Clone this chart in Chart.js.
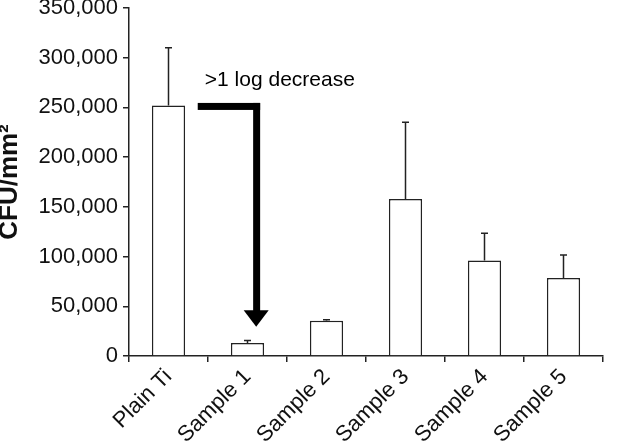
<!DOCTYPE html>
<html>
<head>
<meta charset="utf-8">
<script src="https://cdn.jsdelivr.net/npm/chart.js@4"></script>
<style>
  html, body { margin: 0; padding: 0; background: #fff; }
  #wrap { width: 637px; height: 444px; }
</style>
</head>
<body>
<div id="wrap"><canvas id="myChart"></canvas></div>
<script>
const categories = ['Plain Ti', 'Sample 1', 'Sample 2', 'Sample 3', 'Sample 4', 'Sample 5'];
const cfuValues = [252000, 13000, 35500, 158000, 96000, 78500];
const cfuErrors = [58000, 2500, 1000, 77000, 27500, 23000];
const yTicks = [0, 50000, 100000, 150000, 200000, 250000, 300000, 350000];

// annotation: ">1 log decrease" arrow, in axis units
const arrowX = [0.37, 1.16, 1.11];   // start, corner, head centre (category units)
const arrowY = [251000, 46000, 29500]; // shaft level, head base, tip
const noteText = '>1 log decrease';
const noteAt = [0.46, 277500];

const ink = '#222';
const font = 'Liberation Sans, Arial, sans-serif';

const errorBars = {
  id: 'errorBars',
  afterDatasetsDraw(chart) {
    const ctx = chart.ctx;
    const y = chart.scales.y;
    const meta = chart.getDatasetMeta(0);
    ctx.save();
    ctx.strokeStyle = ink;
    ctx.lineWidth = 1.5;
    meta.data.forEach((bar, i) => {
      const top = y.getPixelForValue(cfuValues[i] + cfuErrors[i]);
      const base = y.getPixelForValue(cfuValues[i]);
      ctx.beginPath();
      ctx.moveTo(bar.x, base);
      ctx.lineTo(bar.x, top);
      ctx.moveTo(bar.x - 3.5, top);
      ctx.lineTo(bar.x + 3.5, top);
      ctx.stroke();
    });
    ctx.restore();
  }
};

const arrowNote = {
  id: 'arrowNote',
  afterDraw(chart) {
    const ctx = chart.ctx;
    const x = chart.scales.x, y = chart.scales.y;
    const x0 = x.getPixelForValue(arrowX[0]);
    const x1 = x.getPixelForValue(arrowX[1]);
    const xh = x.getPixelForValue(arrowX[2]);
    const y0 = y.getPixelForValue(arrowY[0]);
    const yb = y.getPixelForValue(arrowY[1]);
    const yt = y.getPixelForValue(arrowY[2]);
    const w = 7;
    ctx.save();
    ctx.fillStyle = '#000';
    ctx.fillRect(x0, y0 - w / 2, x1 - x0, w);
    ctx.fillRect(x1 - w, y0 - w / 2, w, yb - y0 + w / 2 + 1);
    ctx.beginPath();
    ctx.moveTo(xh - 12.5, yb);
    ctx.lineTo(xh + 12.5, yb);
    ctx.lineTo(xh, yt);
    ctx.closePath();
    ctx.fill();
    ctx.font = '21px ' + font;
    ctx.textBaseline = 'middle';
    ctx.textAlign = 'left';
    ctx.fillText(noteText, x.getPixelForValue(noteAt[0]), y.getPixelForValue(noteAt[1]));
    ctx.restore();
  }
};

new Chart(document.getElementById('myChart'), {
  type: 'bar',
  data: {
    labels: categories,
    datasets: [{
      data: cfuValues,
      backgroundColor: '#fff',
      borderColor: ink,
      borderWidth: 1.5,
      categoryPercentage: 1,
      barPercentage: 0.42
    }]
  },
  options: {
    responsive: true,
    maintainAspectRatio: false,
    animation: false,
    layout: { padding: { top: 8, right: 34, left: 0, bottom: 0 } },
    plugins: { legend: { display: false }, tooltip: { enabled: false } },
    scales: {
      x: {
        grid: { offset: true, drawOnChartArea: false, tickLength: 6, color: ink, lineWidth: 1.5 },
        border: { color: ink, width: 1.5 },
        ticks: { color: '#111', font: { family: font, size: 22 }, minRotation: 45, maxRotation: 45, padding: 2 },
        afterFit(s) { s.height = 88; s.paddingLeft = 0; s.paddingRight = 0; }
      },
      y: {
        min: 0,
        max: 350000,
        afterBuildTicks(s) { s.ticks = yTicks.map(v => ({ value: v })); },
        grid: { drawOnChartArea: false, tickLength: 6, color: ink, lineWidth: 1.5 },
        border: { color: ink, width: 1.5 },
        ticks: {
          color: '#111',
          font: { family: font, size: 22 },
          padding: 5,
          callback: v => v.toLocaleString('en-US')
        },
        title: {
          display: true,
          text: 'CFU/mm²',
          color: '#111',
          font: { family: font, size: 26, weight: 'bold', lineHeight: 0.72 },
          padding: 0
        },
        afterFit(s) { s.width = 129; s.paddingTop = 0; s.paddingBottom = 0; }
      }
    }
  },
  plugins: [errorBars, arrowNote]
});
</script>
</body>
</html>
